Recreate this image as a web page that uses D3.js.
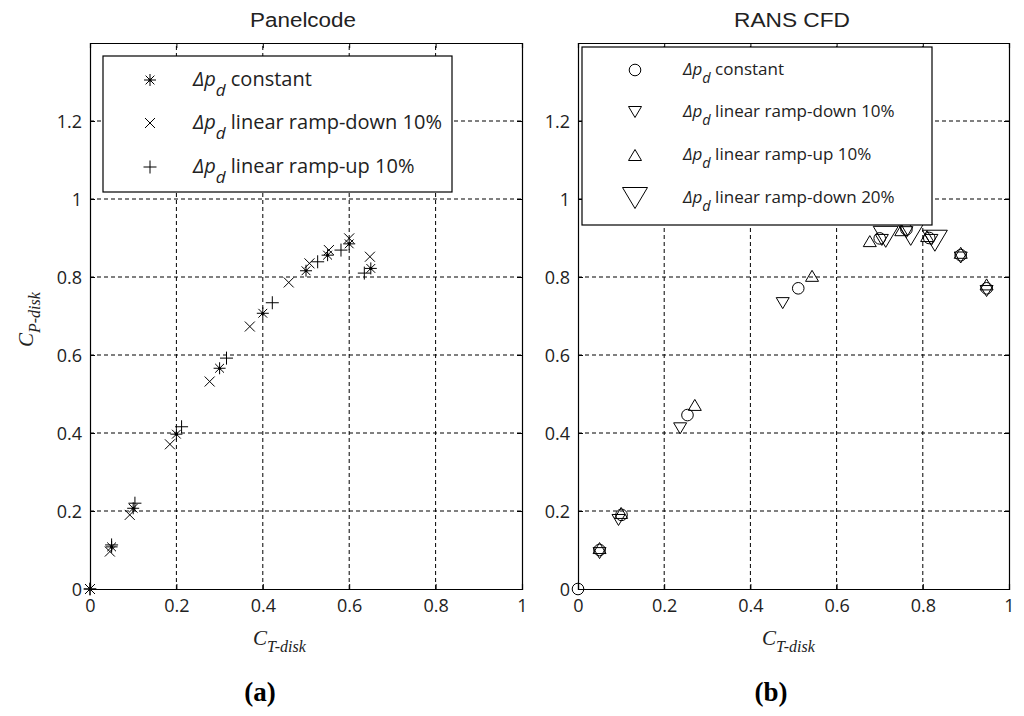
<!DOCTYPE html>
<html>
<head>
<meta charset="utf-8">
<script src="https://cdn.jsdelivr.net/npm/d3@7"></script>
<style>
  body { margin: 0; background: #fff; }
  svg { display: block; }
  .tick text { font-family: "Open Sans", sans-serif; font-size: 18px; fill: #222; }
  .title { font-family: "Liberation Sans", Arial, sans-serif; font-size: 20px; fill: #222; }
  .axlabel { font-family: "Liberation Serif", "Times New Roman", serif; font-style: italic; fill: #222; }
  .panel-tag { font-family: "Liberation Serif", "Times New Roman", serif; font-weight: bold; font-size: 27px; fill: #000; }
</style>
</head>
<body>
<div id="chart"></div>
<script>
// ---------------------------------------------------------------------------
// data
// ---------------------------------------------------------------------------

const xTicks = [0, 0.2, 0.4, 0.6, 0.8, 1];
const yTicks = [0, 0.2, 0.4, 0.6, 0.8, 1, 1.2];
const xTickLabels = ['0', '0.2', '0.4', '0.6', '0.8', '1'];
const yTickLabels = ['0', '0.2', '0.4', '0.6', '0.8', '1', '1.2'];

// (a) Panelcode
const panelConstX = [0, 0.05, 0.10, 0.20, 0.30, 0.40, 0.50, 0.55, 0.60, 0.65];
const panelConstY = [0, 0.108, 0.207, 0.397, 0.566, 0.707, 0.816, 0.856, 0.885, 0.822];
const panelDownX = [0, 0.046, 0.092, 0.185, 0.277, 0.37, 0.46, 0.508, 0.553, 0.60, 0.648];
const panelDownY = [0, 0.096, 0.19, 0.371, 0.532, 0.673, 0.786, 0.835, 0.869, 0.899, 0.852];
const panelUpX = [0, 0.05, 0.104, 0.212, 0.316, 0.422, 0.527, 0.581, 0.635];
const panelUpY = [0, 0.113, 0.22, 0.416, 0.592, 0.734, 0.839, 0.869, 0.81];

// (b) RANS CFD
const cfdConstX = [0, 0.05, 0.101, 0.254, 0.511, 0.70, 0.762, 0.815, 0.888, 0.948];
const cfdConstY = [0, 0.10, 0.19, 0.446, 0.771, 0.899, 0.922, 0.90, 0.856, 0.771];
const cfdDown10X = [0.05, 0.094, 0.237, 0.475, 0.705, 0.762, 0.82, 0.888, 0.948];
const cfdDown10Y = [0.092, 0.177, 0.412, 0.733, 0.895, 0.915, 0.895, 0.85, 0.764];
const cfdUpX = [0.05, 0.10, 0.271, 0.543, 0.677, 0.75, 0.81, 0.888, 0.948];
const cfdUpY = [0.105, 0.195, 0.472, 0.803, 0.892, 0.92, 0.905, 0.862, 0.781];
const cfdDown20X = [0.714, 0.772, 0.828];
const cfdDown20Y = [0.903, 0.908, 0.893];

const panelLabels = ['constant', 'linear ramp-down 10%', 'linear ramp-up 10%'];
const cfdLabels = ['constant', 'linear ramp-down 10%', 'linear ramp-up 10%', 'linear ramp-down 20%'];

// ---------------------------------------------------------------------------
// markers (matlab style)
// ---------------------------------------------------------------------------

const MARKERS = {
    star: g => {
        const r = 6, d = 4.4;
        g.append('path').attr('d', `M${-r},0H${r}M0,${-r}V${r}M${-d},${-d}L${d},${d}M${-d},${d}L${d},${-d}`);
        g.append('circle').attr('r', 1.6).attr('fill', '#000').attr('stroke', 'none');
    },
    cross: g => {
        const d = 5;
        g.append('path').attr('d', `M${-d},${-d}L${d},${d}M${-d},${d}L${d},${-d}`);
    },
    plus: g => {
        const r = 6.5;
        g.append('path').attr('d', `M${-r},0H${r}M0,${-r}V${r}`);
    },
    circle: g => {
        g.append('circle').attr('r', 5.8).attr('fill', 'none');
    },
    down: g => {
        const w = 6.5, h = 5.5;
        g.append('path').attr('d', `M${-w},${-h}H${w}L0,${h}Z`).attr('fill', 'none');
    },
    up: g => {
        const w = 6.5, h = 5.5;
        g.append('path').attr('d', `M${-w},${h}H${w}L0,${-h}Z`).attr('fill', 'none');
    },
    bigDown: g => {
        const w = 12.5, h = 10.5;
        g.append('path').attr('d', `M${-w},${-h}H${w}L0,${h}Z`).attr('fill', 'none');
    },
};

// ---------------------------------------------------------------------------
// layout
// ---------------------------------------------------------------------------

const W = 1024, H = 716;
const svg = d3.select('#chart').append('svg').attr('width', W).attr('height', H);

function drawPanel(opt) {
    const x = d3.scaleLinear().domain([0, 1]).range([opt.left, opt.right]);
    const y = d3.scaleLinear().domain([0, 1.4]).range([589, 43]);
    const g = svg.append('g');

    // grid
    g.append('g').selectAll('line').data(xTicks.slice(1, -1)).enter().append('line')
        .attr('x1', d => x(d)).attr('x2', d => x(d)).attr('y1', y(0)).attr('y2', y(1.4))
        .attr('stroke', '#000').attr('stroke-width', 1).attr('stroke-dasharray', '4,3');
    g.append('g').selectAll('line').data(yTicks.slice(1)).enter().append('line')
        .attr('x1', x(0)).attr('x2', x(1)).attr('y1', d => y(d)).attr('y2', d => y(d))
        .attr('stroke', '#000').attr('stroke-width', 1).attr('stroke-dasharray', '4,3');

    // axes (ticks inward, on every side)
    const bottom = g.append('g').attr('transform', `translate(0,${y(0)})`)
        .call(d3.axisBottom(x).tickValues(xTicks).tickFormat((d, i) => xTickLabels[i]).tickSize(-5).tickPadding(10));
    const left = g.append('g').attr('transform', `translate(${x(0)},0)`)
        .call(d3.axisLeft(y).tickValues(yTicks).tickFormat((d, i) => yTickLabels[i]).tickSize(-5).tickPadding(8));
    g.append('g').attr('transform', `translate(0,${y(1.4)})`)
        .call(d3.axisTop(x).tickValues(xTicks).tickFormat('').tickSize(-5));
    g.append('g').attr('transform', `translate(${x(1)},0)`)
        .call(d3.axisRight(y).tickValues(yTicks).tickFormat('').tickSize(-5));
    g.selectAll('.domain').attr('stroke', '#000').attr('stroke-width', 1.2);
    g.selectAll('.tick line').attr('stroke', '#000');
    bottom.selectAll('.tick text').attr('dy', '0.71em');
    left.selectAll('.tick text').attr('dy', '0.36em');
    g.selectAll('.tick text').attr('fill', '#222');

    // points
    opt.series.forEach(s => {
        const pts = s.xs.map((v, i) => [v, s.ys[i]]);
        g.append('g').selectAll('g').data(pts).enter().append('g')
            .attr('transform', d => `translate(${x(d[0])},${y(d[1])})`)
            .attr('stroke', '#000').attr('stroke-width', 1).attr('fill', 'none')
            .each(function () { MARKERS[s.marker](d3.select(this)); });
    });

    // legend
    const lg = opt.legend;
    g.append('rect').attr('x', lg.x0).attr('y', lg.y0)
        .attr('width', lg.x1 - lg.x0).attr('height', lg.y1 - lg.y0)
        .attr('fill', '#fff').attr('stroke', '#000').attr('stroke-width', 1.2);
    opt.series.forEach((s, i) => {
        const ry = lg.rows[i];
        const m = g.append('g').attr('transform', `translate(${lg.markX},${ry})`)
            .attr('stroke', '#000').attr('stroke-width', 1).attr('fill', 'none');
        MARKERS[s.marker](m);
        const t = g.append('text').attr('x', lg.textX).attr('y', ry + lg.fs * 0.3)
            .style('font-family', '"Open Sans", sans-serif').style('font-size', lg.fs + 'px')
            .attr('fill', '#222');
        t.append('tspan').style('font-style', 'italic').text('Δp');
        t.append('tspan').style('font-style', 'italic').style('font-size', (lg.fs * 0.85) + 'px')
            .attr('dy', lg.fs * 0.48).text('d');
        t.append('tspan').attr('dy', -lg.fs * 0.48).text(' ' + s.label);
    });

    // title
    g.append('text').attr('class', 'title').attr('x', opt.titleX).attr('y', 27)
        .attr('text-anchor', 'middle').attr('textLength', opt.titleLen)
        .attr('lengthAdjust', 'spacingAndGlyphs').text(opt.title);

    // x label C_T-disk
    const xl = g.append('text').attr('class', 'axlabel').attr('x', opt.xLabelX).attr('y', 645);
    xl.append('tspan').style('font-size', '21px').text('C');
    xl.append('tspan').style('font-size', '16px').attr('dy', 7).text('T-disk');

    // panel tag
    g.append('text').attr('class', 'panel-tag').attr('x', opt.tagX).attr('y', 701)
        .attr('text-anchor', 'middle').text(opt.tag);

    return { x, y };
}

drawPanel({
    left: 90, right: 522,
    title: 'Panelcode', titleX: 303, titleLen: 106,
    xLabelX: 253, tag: '(a)', tagX: 260,
    series: [
        { xs: panelConstX, ys: panelConstY, marker: 'star', label: panelLabels[0] },
        { xs: panelDownX, ys: panelDownY, marker: 'cross', label: panelLabels[1] },
        { xs: panelUpX, ys: panelUpY, marker: 'plus', label: panelLabels[2] },
    ],
    legend: { x0: 103, y0: 56, x1: 452, y1: 192, rows: [80, 123, 167], markX: 150, textX: 193, fs: 20 },
});

drawPanel({
    left: 578, right: 1009,
    title: 'RANS CFD', titleX: 792, titleLen: 116,
    xLabelX: 762, tag: '(b)', tagX: 771,
    series: [
        { xs: cfdConstX, ys: cfdConstY, marker: 'circle', label: cfdLabels[0] },
        { xs: cfdDown10X, ys: cfdDown10Y, marker: 'down', label: cfdLabels[1] },
        { xs: cfdUpX, ys: cfdUpY, marker: 'up', label: cfdLabels[2] },
        { xs: cfdDown20X, ys: cfdDown20Y, marker: 'bigDown', label: cfdLabels[3] },
    ],
    legend: { x0: 582, y0: 47, x1: 932, y1: 225, rows: [70, 112, 155, 198], markX: 635, textX: 683, fs: 17 },
});

// y label C_P-disk (left panel only)
const yl = svg.append('text').attr('class', 'axlabel')
    .attr('transform', 'translate(33,347) rotate(-90)');
yl.append('tspan').style('font-size', '21px').text('C');
yl.append('tspan').style('font-size', '16px').attr('dy', 7).text('P-disk');
</script>
</body>
</html>
